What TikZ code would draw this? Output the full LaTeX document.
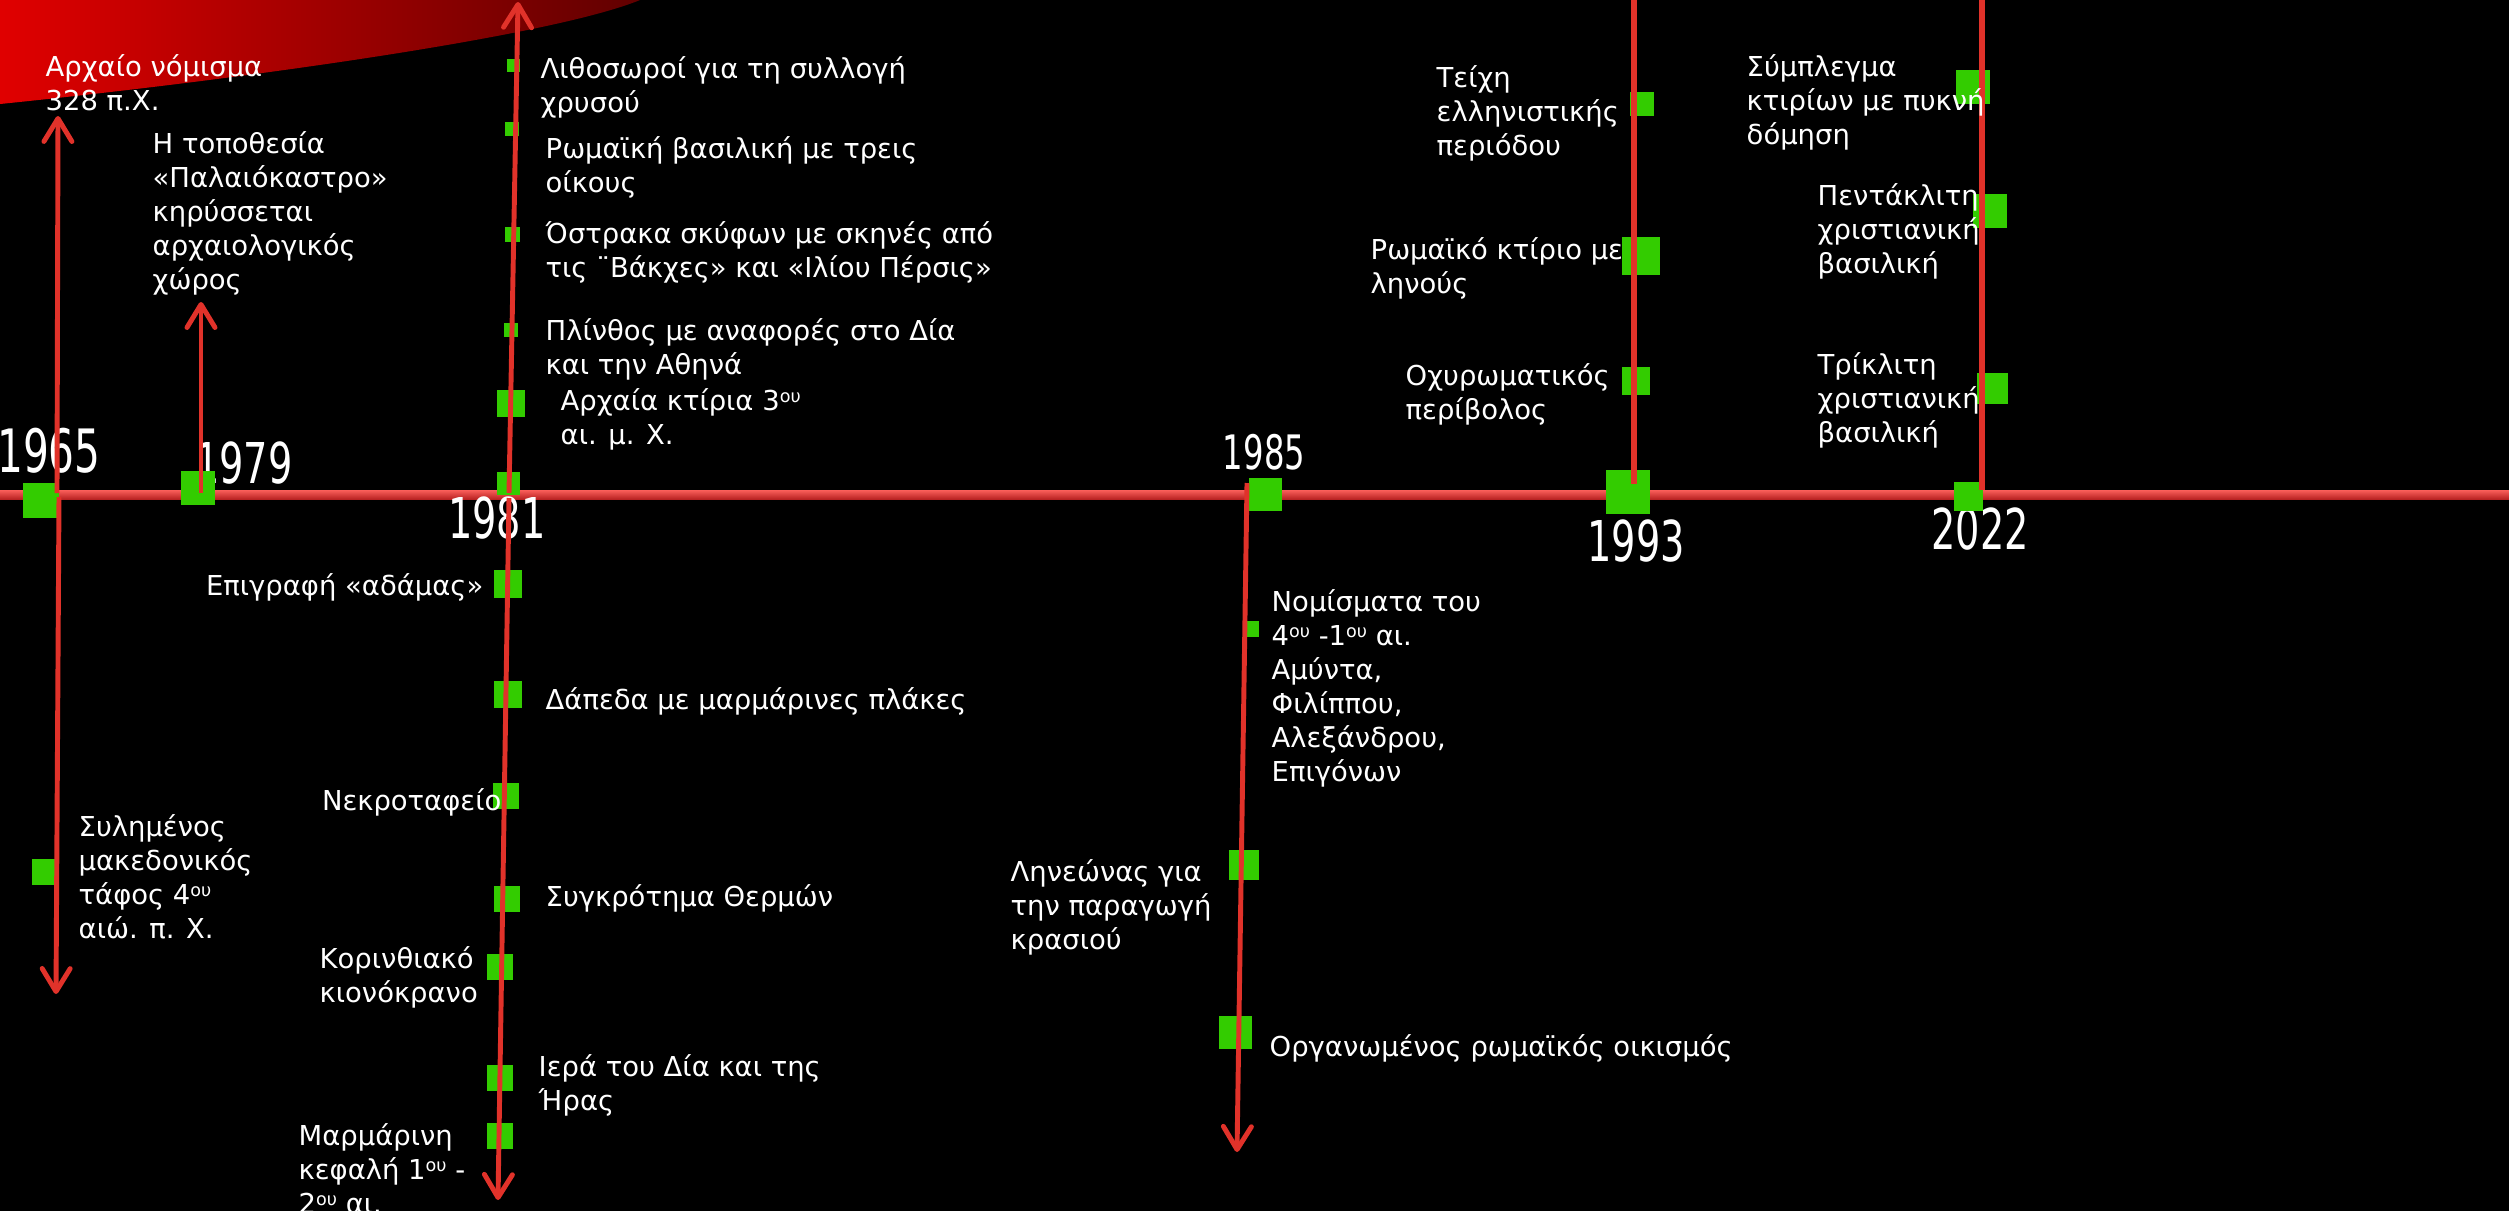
\documentclass[tikz,border=0pt]{standalone}
\usepackage{graphicx}
\usepackage{fontspec}
\setmainfont{DejaVu Sans}
\usepackage{tikz}
\usetikzlibrary{arrows.meta}
\definecolor{evgreen}{RGB}{51,204,0}
\definecolor{arrred}{RGB}{225,50,42}
\definecolor{axistop}{RGB}{250,95,90}
\definecolor{axisbot}{RGB}{185,35,35}
\newcommand{\yeartxt}[1]{\scalebox{0.68}[1]{#1}}
\newcommand{\upidx}[1]{\raisebox{0.55ex}{\fontsize{5}{5}\selectfont #1}}
\tikzset{
  evt/.style={rectangle, fill=evgreen, inner sep=0pt, minimum size=#1},
  lbl/.style={text=white, inner sep=0pt, align=left, anchor=north west, font=\fontsize{7.8}{9.64}\selectfont},
  year/.style={text=white, inner sep=0pt, font=\fontsize{16}{16}\selectfont},
  arr/.style={-{Straight Barb[length=2.3mm, width=2.8mm, round]}, line width=1.4pt, draw=arrred}, % timeline branches
  rod/.style={line width=1.6pt, draw=arrred} % branches running off the top
}

\begin{document}
\begin{tikzpicture}[x=0.01cm, y=-0.01cm]
  \useasboundingbox (0,0) rectangle (2509,1211);
  \fill[black] (0,0) rectangle (2509,1211);

  % Red swoosh, top left
  \shade[left color=red!88!black, middle color=red!76!black, right color=red!38!black]
    (0,0) -- (640,0) .. controls (555,35) and (255,78) .. (0,104) -- cycle;

  % Timeline axis
  \shade[top color=axistop, bottom color=axisbot] (0,490) rectangle (2509,499);

  % Years
  \node[year, font=\fontsize{17}{17}\selectfont] (l1965) at (49,451) {\yeartxt{1965}};
  \node[year] (l1979) at (244,463) {\yeartxt{1979}};
  \node[year] (l1981) at (497,518) {\yeartxt{1981}};
  \node[year, font=\fontsize{13.5}{13.5}\selectfont] (l1985) at (1264,452) {\yeartxt{1985}};
  \node[year] (l1993) at (1636,541) {\yeartxt{1993}};
  \node[year] (l2022) at (1980,529) {\yeartxt{2022}};

  % Markers on the axis
  \node[evt=3.5mm]  (y1965) at (41,500)   {};
  \node[evt=3.45mm] (y1979) at (198,488)  {};
  \node[evt=2.3mm]  (y1981) at (508,483)  {};
  \node[evt=3.3mm]  (y1985) at (1265,494) {};
  \node[evt=4.45mm] (y1993) at (1628,492) {};
  \node[evt=2.9mm]  (y2022) at (1968,496) {};

  % Finds along the branches
  \node[evt=2.65mm] (e1965a) at (45,872) {};
  \node[evt=1.3mm]  (e1981a) at (513,65)  {};
  \node[evt=1.45mm] (e1981b) at (512,129) {};
  \node[evt=1.5mm]  (e1981c) at (512,234) {};
  \node[evt=1.45mm] (e1981d) at (511,330) {};
  \node[evt=2.7mm]  (e1981e) at (511,403) {};
  \node[evt=2.75mm] (e1981f) at (508,584) {};
  \node[evt=2.7mm]  (e1981g) at (508,694) {};
  \node[evt=2.6mm]  (e1981h) at (506,796) {};
  \node[evt=2.65mm] (e1981i) at (507,899) {};
  \node[evt=2.55mm] (e1981j) at (500,967) {};
  \node[evt=2.6mm]  (e1981k) at (500,1078) {};
  \node[evt=2.55mm] (e1981l) at (500,1136) {};
  \node[evt=1.6mm]  (e1985a) at (1251,629) {};
  \node[evt=3mm]    (e1985b) at (1244,865) {};
  \node[evt=3.3mm]  (e1985c) at (1235,1032) {};
  \node[evt=2.4mm]  (e1993a) at (1642,104) {};
  \node[evt=3.8mm]  (e1993b) at (1641,256) {};
  \node[evt=2.85mm] (e1993c) at (1636,381) {};
  \node[evt=3.4mm]  (e2022a) at (1973,87)  {};
  \node[evt=3.4mm]  (e2022b) at (1990,211) {};
  \node[evt=3.1mm]  (e2022c) at (1992,388) {};

  % Branch ends
  \coordinate (a1965u) at (57,493);   \coordinate (t1965u) at (58,116);
  \coordinate (a1965d) at (59,497);   \coordinate (t1965d) at (56,994);
  \coordinate (a1979u) at (201,493);  \coordinate (t1979u) at (201,302);
  \coordinate (a1981u) at (509,493);  \coordinate (t1981u) at (518,2);
  \coordinate (a1981d) at (509,498);  \coordinate (t1981d) at (498,1200);
  \coordinate (a1985d) at (1247,483); \coordinate (t1985d) at (1237,1152);
  \coordinate (a1993u) at (1634,484); \coordinate (t1993u) at (1634,-5);
  \coordinate (a2022u) at (1982,490); \coordinate (t2022u) at (1982,-5);

  % Branches
  \draw[arr] (a1965u) -- (t1965u);
  \draw[arr] (a1965d) -- (t1965d);
  \draw[arr] (a1979u) -- (t1979u);
  \draw[arr] (a1981u) -- (t1981u);
  \draw[arr] (a1981d) -- (t1981d);
  \draw[arr] (a1985d) -- (t1985d);
  \draw[rod] (a1993u) -- (t1993u);
  \draw[rod] (a2022u) -- (t2022u);

  % Labels
  \node[lbl] (n1965a) at (45,54)   {Αρχαίο νόμισμα\\328 π.Χ.};
  \node[lbl] (n1979a) at (152,131) {Η τοποθεσία\\«Παλαιόκαστρο»\\κηρύσσεται\\αρχαιολογικός\\χώρος};
  \node[lbl] (n1965b) at (78,814)  {Συλημένος\\μακεδονικός\\τάφος 4\upidx{ου}\\αιώ. π. Χ.};
  \node[lbl] (n1981a) at (540,56)  {Λιθοσωροί για τη συλλογή\\χρυσού};
  \node[lbl] (n1981b) at (545,136) {Ρωμαϊκή βασιλική με τρεις\\οίκους};
  \node[lbl] (n1981c) at (545,221) {Όστρακα σκύφων με σκηνές από\\τις ¨Βάκχες» και «Ιλίου Πέρσις»};
  \node[lbl] (n1981d) at (545,318) {Πλίνθος με αναφορές στο Δία\\και την Αθηνά};
  \node[lbl] (n1981e) at (560,388) {Αρχαία κτίρια 3\upidx{ου}\\αι. μ. Χ.};
  \node[lbl, anchor=north east, align=right] (n1981f) at (484,573) {Επιγραφή «αδάμας»};
  \node[lbl] (n1981g) at (545,687) {Δάπεδα με μαρμάρινες πλάκες};
  \node[lbl, anchor=north east, align=right] (n1981h) at (502,788) {Νεκροταφείο};
  \node[lbl] (n1981i) at (545,884) {Συγκρότημα Θερμών};
  \node[lbl] (n1981j) at (319,946) {Κορινθιακό\\κιονόκρανο};
  \node[lbl] (n1981k) at (538,1054) {Ιερά του Δία και της\\Ήρας};
  \node[lbl] (n1981l) at (298,1123) {Μαρμάρινη\\κεφαλή 1\upidx{ου} -\\2\upidx{ου} αι.};
  \node[lbl] (n1985a) at (1271,589) {Νομίσματα του\\4\upidx{ου} -1\upidx{ου} αι.\\Αμύντα,\\Φιλίππου,\\Αλεξάνδρου,\\Επιγόνων};
  \node[lbl] (n1985b) at (1010,859) {Ληνεώνας για\\την παραγωγή\\κρασιού};
  \node[lbl] (n1985c) at (1269,1034) {Οργανωμένος ρωμαϊκός οικισμός};
  \node[lbl] (n1993a) at (1436,65)  {Τείχη\\ελληνιστικής\\περιόδου};
  \node[lbl] (n1993b) at (1370,237) {Ρωμαϊκό κτίριο με\\ληνούς};
  \node[lbl] (n1993c) at (1405,363) {Οχυρωματικός\\περίβολος};
  \node[lbl] (n2022a) at (1746,54)  {Σύμπλεγμα\\κτιρίων με πυκνή\\δόμηση};
  \node[lbl] (n2022b) at (1817,183) {Πεντάκλιτη\\χριστιανική\\βασιλική};
  \node[lbl] (n2022c) at (1817,352) {Τρίκλιτη\\χριστιανική\\βασιλική};
\end{tikzpicture}
\end{document}
